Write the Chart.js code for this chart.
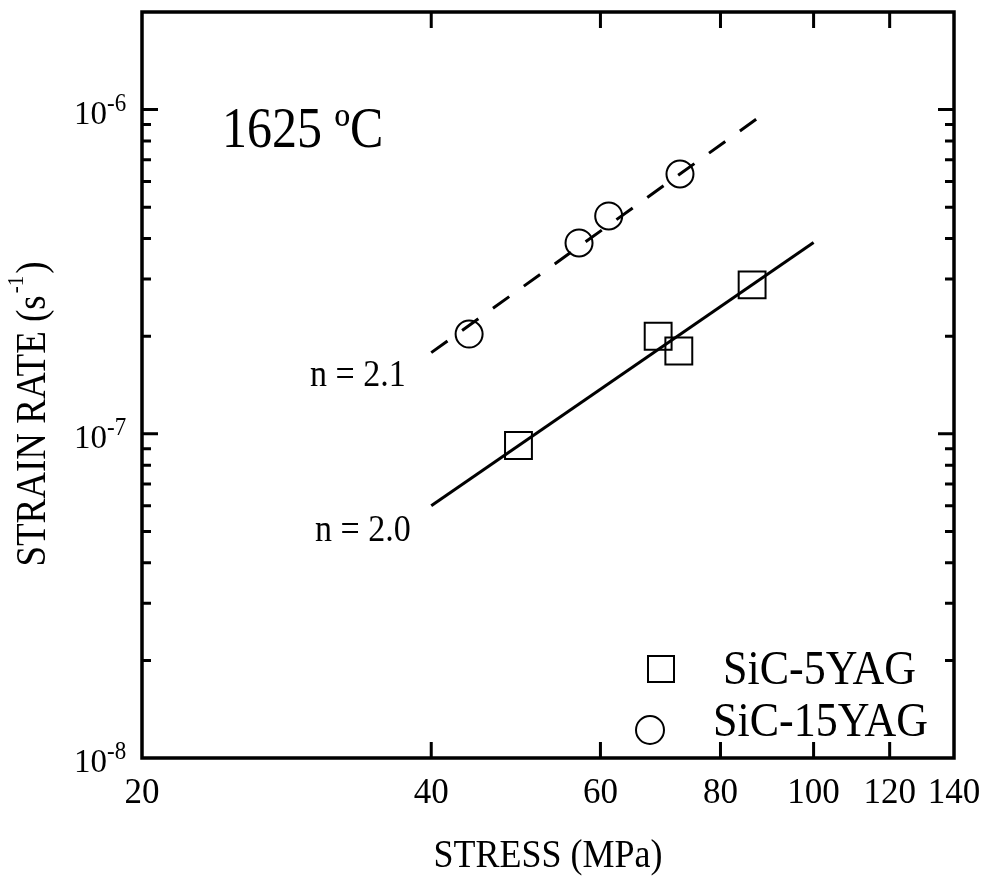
<!DOCTYPE html>
<html>
<head>
<meta charset="utf-8">
<script src="https://cdn.jsdelivr.net/npm/chart.js@4/dist/chart.umd.min.js"></script>
<style>
html,body{margin:0;padding:0;background:#fff;}
canvas{display:block;}
</style>
</head>
<body>
<canvas id="c" width="984" height="876"></canvas>
<script>
// ---- data ----
const xTickValues = [20, 40, 60, 80, 100, 120, 140];
const xTickLabels = ['20', '40', '60', '80', '100', '120', '140'];
const yMajorValues = [1e-8, 1e-7, 1e-6];
const yMajorExponents = ['-8', '-7', '-6'];

const sic5Stress = [49.3, 68.9, 72.4, 86.3];
const sic5Rate   = [0.92e-7, 2.0e-7, 1.80e-7, 2.88e-7];
const sic15Stress = [43.8, 57.0, 61.2, 72.6];
const sic15Rate   = [2.03e-7, 3.88e-7, 4.70e-7, 6.33e-7];

const fit5Stress = [40, 100];
const fit5Rate   = [6.0e-8, 3.89e-7];
const fit15Stress = [40, 90];
const fit15Rate   = [1.78e-7, 1.0e-6];

const seriesNames = ['SiC-5YAG', 'SiC-15YAG'];
const fitLabels = ['n = 2.0', 'n = 2.1'];
const tempLabel = '1625 \u00baC';

const toPts = (xs, ys) => xs.map((x, i) => ({x: x, y: ys[i]}));

const FONT = "'Liberation Serif', 'Times New Roman', serif";

function txt(ctx, s, x, y, size, align, vs) {
  ctx.save();
  ctx.font = size + 'px ' + FONT;
  ctx.textAlign = align || 'left';
  ctx.textBaseline = 'alphabetic';
  ctx.translate(x, y);
  ctx.scale(1, vs || 1.12);
  ctx.fillText(s, 0, 0);
  ctx.restore();
}

const decor = {
  id: 'decor',
  afterDraw(chart) {
    const ctx = chart.ctx;
    const a = chart.chartArea;
    const xs = chart.scales.x, ys = chart.scales.y;
    ctx.save();
    ctx.fillStyle = '#000';
    ctx.strokeStyle = '#000';
    ctx.lineCap = 'butt';

    // frame
    ctx.lineWidth = 3.5;
    ctx.strokeRect(a.left, a.top, a.right - a.left, a.bottom - a.top);

    // x ticks (inward, bottom and top)
    ctx.lineWidth = 3;
    xTickValues.forEach(v => {
      const px = xs.getPixelForValue(v);
      if (px <= a.left + 2 || px >= a.right - 2) return;
      ctx.beginPath();
      ctx.moveTo(px, a.bottom); ctx.lineTo(px, a.bottom - 16);
      ctx.moveTo(px, a.top); ctx.lineTo(px, a.top + 16);
      ctx.stroke();
    });
    // x tick labels
    xTickValues.forEach((v, i) => {
      txt(ctx, xTickLabels[i], xs.getPixelForValue(v), a.bottom + 45, 35, 'center', 1.0);
    });

    // y ticks: majors and minors
    for (let e = -8; e <= -6; e++) {
      for (let m = 1; m <= 9; m++) {
        const v = m * Math.pow(10, e);
        if (v > ys.max * 0.999) continue;
        const py = ys.getPixelForValue(v);
        const len = (m === 1) ? 16 : 9;
        if (py >= a.bottom - 1) continue;
        ctx.beginPath();
        ctx.moveTo(a.left, py); ctx.lineTo(a.left + len, py);
        ctx.moveTo(a.right, py); ctx.lineTo(a.right - len, py);
        ctx.stroke();
      }
    }
    // y tick labels 10^n
    yMajorValues.forEach((v, i) => {
      const py = ys.getPixelForValue(v);
      txt(ctx, '10', a.left - 35, py + 14, 33, 'right', 1.05);
      txt(ctx, yMajorExponents[i], a.left - 35, py + 1, 23, 'left', 1.05);
    });

    // x axis title
    txt(ctx, 'STRESS (MPa)', (a.left + a.right) / 2, 867, 36, 'center');

    // y axis title (rotated, with superscript)
    ctx.save();
    ctx.translate(45, 414);
    ctx.rotate(-Math.PI / 2);
    const p1 = 'STRAIN RATE (s', p3 = ')';
    ctx.font = '37px ' + FONT; const w1 = ctx.measureText(p1).width, w3 = ctx.measureText(p3).width;
    ctx.font = '21px ' + FONT; const w2 = ctx.measureText('-1').width;
    const tot = w1 + w2 + 4 + w3;
    let cx = -tot / 2;
    txt(ctx, p1, cx, 0, 37, 'left'); cx += w1 + 2;
    txt(ctx, '-1', cx, -22, 21, 'left'); cx += w2 + 2;
    txt(ctx, p3, cx, 0, 37, 'left');
    ctx.restore();

    // annotations
    txt(ctx, tempLabel, 222, 147, 50, 'left');
    txt(ctx, fitLabels[1], 310, 386, 34, 'left');
    txt(ctx, fitLabels[0], 315, 541, 34, 'left');

    // legend
    ctx.lineWidth = 2;
    ctx.strokeRect(661 - 13, 669 - 13, 26, 26);
    ctx.beginPath(); ctx.arc(650, 730, 14, 0, Math.PI * 2); ctx.stroke();
    txt(ctx, seriesNames[0], 723, 684, 44, 'left');
    txt(ctx, seriesNames[1], 713, 736, 44, 'left');

    ctx.restore();
  }
};

new Chart(document.getElementById('c'), {
  type: 'scatter',
  data: {
    datasets: [
      { label: 'fit5', data: toPts(fit5Stress, fit5Rate), showLine: true, borderColor: '#000', borderWidth: 3, pointRadius: 0, fill: false },
      { label: 'fit15', data: toPts(fit15Stress, fit15Rate), showLine: true, borderColor: '#000', borderWidth: 3, borderDash: [20, 18], pointRadius: 0, fill: false },
      { label: seriesNames[0], data: toPts(sic5Stress, sic5Rate), pointStyle: 'rect', pointRadius: 19, borderColor: '#000', backgroundColor: 'rgba(0,0,0,0)', borderWidth: 2, showLine: false },
      { label: seriesNames[1], data: toPts(sic15Stress, sic15Rate), pointStyle: 'circle', pointRadius: 13.5, borderColor: '#000', backgroundColor: 'rgba(0,0,0,0)', borderWidth: 2, showLine: false }
    ]
  },
  options: {
    responsive: false,
    animation: false,
    devicePixelRatio: 1,
    layout: { autoPadding: false, padding: { top: 12, right: 30, left: 0, bottom: 0 } },
    plugins: { legend: { display: false }, tooltip: { enabled: false } },
    scales: {
      x: {
        type: 'logarithmic', min: 20, max: 140,
        grid: { display: false }, border: { display: false },
        ticks: { display: false },
        afterFit(s) { s.height = 118; }
      },
      y: {
        type: 'logarithmic', min: 1e-8, max: 2e-6,
        grid: { display: false }, border: { display: false },
        ticks: { display: false },
        afterFit(s) { s.width = 142; }
      }
    }
  },
  plugins: [decor]
});
</script>
</body>
</html>
